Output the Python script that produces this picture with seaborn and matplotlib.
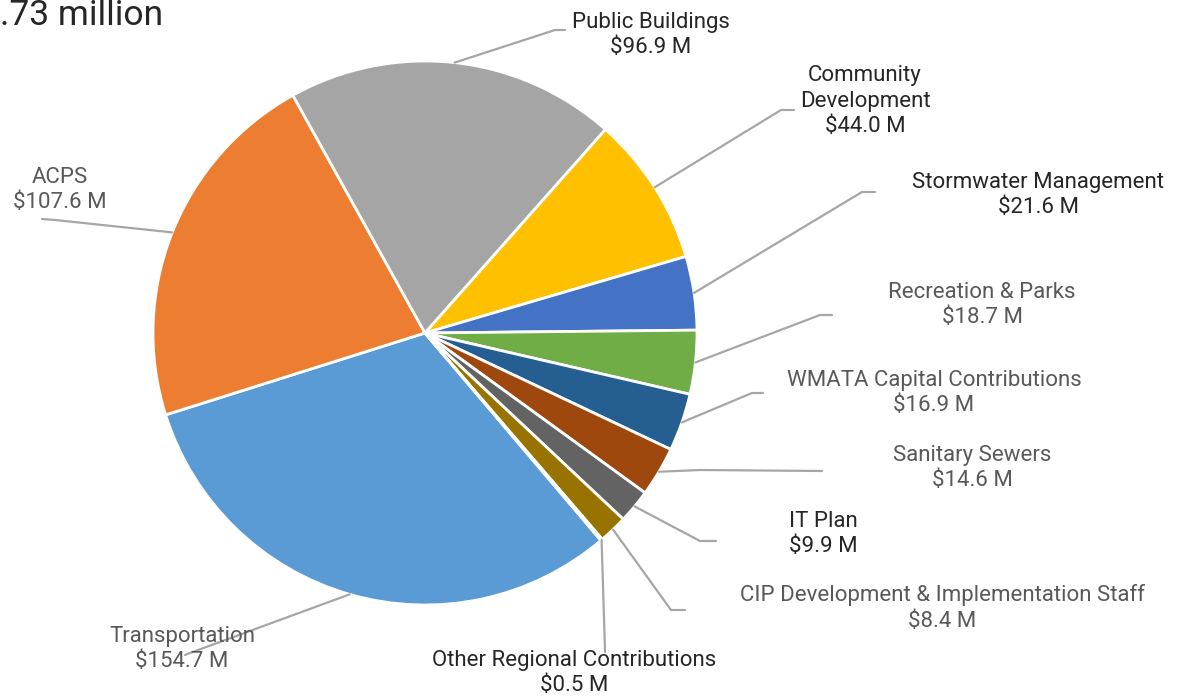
import numpy as np
import seaborn as sns
import matplotlib
matplotlib.use("Agg")
import matplotlib.pyplot as plt

# Data (clockwise order, starting with Transportation)
names = ["Transportation", "ACPS", "Public Buildings", "Community\nDevelopment",
         "Stormwater Management", "Recreation & Parks", "WMATA Capital Contributions",
         "Sanitary Sewers", "IT Plan", "CIP Development & Implementation Staff",
         "Other Regional Contributions"]
values = [154.7, 107.6, 96.9, 44.0, 21.6, 18.7, 16.9, 14.6, 9.9, 8.4, 0.5]
colors = ["#5B9BD5", "#ED7D31", "#A5A5A5", "#FFC000", "#4472C4", "#70AD47",
          "#255E91", "#9E480E", "#636363", "#997300", "#264478"]
title = ".73 million"  # visible part of the (cropped) title

# Layout (pixel positions in the 1181x696 canvas)
W, H = 1181, 696
CX, CY, R = 425, 333, 272
label_pos = [(182, 649), (60, 190), (651, 35), (865, 101), (1038, 195), (982, 305),
             (934, 393), (972, 468), (823, 534), (942, 608), (574, 673)]
elbows = [(190, 653), (55, 220), (555, 30), (781, 110), (862, 192), (820, 315),
          (752, 393), (700, 470), (700, 541), (671, 610), (605, 650)]
ends = [(185, 655), (42, 219), (565, 30), (794, 110), (875, 192), (832, 315),
        (763, 393), (822, 471), (716, 541), (685, 610), (605, 652)]
dark = {"Public Buildings", "Community\nDevelopment", "Stormwater Management",
        "IT Plan", "Other Regional Contributions"}

sns.set_theme(style="white")
plt.rcParams["font.family"] = ["Roboto", "DejaVu Sans"]


def px(x, y):
    return (x - CX) / R, (CY - y) / R


fig = plt.figure(figsize=(W / 100, H / 100), dpi=100)
ax = fig.add_axes([(CX - R) / W, (H - CY - R) / H, 2 * R / W, 2 * R / H])

wedges, _ = ax.pie(values, colors=sns.color_palette(colors), startangle=-49.7,
                   counterclock=False, radius=1.0,
                   wedgeprops=dict(edgecolor="white", linewidth=2))
ax.set_xlim(-1, 1)
ax.set_ylim(-1, 1)
ax.set_aspect("equal")
ax.axis("off")

for w, name, val, lp, el, en in zip(wedges, names, values, label_pos, elbows, ends):
    mid = np.deg2rad((w.theta1 + w.theta2) / 2)
    xs = [np.cos(mid), px(*el)[0], px(*en)[0]]
    ys = [np.sin(mid), px(*el)[1], px(*en)[1]]
    ax.plot(xs, ys, color="#A6A6A6", lw=1.6, clip_on=False, zorder=1)
    tx, ty = px(*lp)
    ax.text(tx, ty, f"{name}\n${val:.1f} M", ha="center", va="center",
            fontsize=16, linespacing=1.28,
            color="#262626" if name in dark else "#595959", zorder=3)

fig.text(0.5 / W, 1 - 25 / H, title, ha="left", va="baseline",
         fontsize=25.5, color="#262626")

fig.savefig("out.png", dpi=100)
